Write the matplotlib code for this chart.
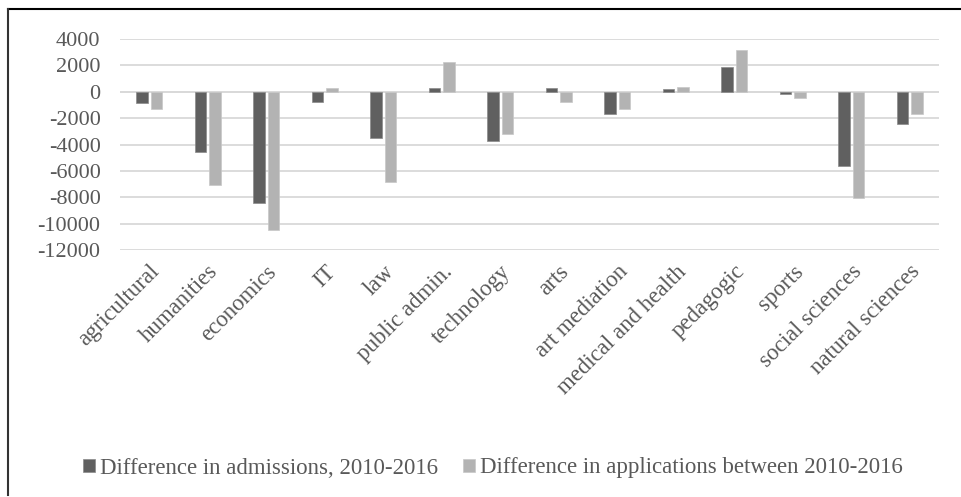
import numpy as np
import matplotlib.pyplot as plt
from matplotlib.lines import Line2D

kategorie = ['agricultural', 'humanities', 'economics', 'IT', 'law', 'public admin.',
             'technology', 'arts', 'art mediation', 'medical and health', 'pedagogic',
             'sports', 'social sciences', 'natural sciences']
przyjecia = [-870, -4600, -8450, -800, -3530, 250, -3710, 280, -1670, 175, 1870, -175, -5630, -2470]
zgloszenia = [-1330, -7060, -10480, 280, -6870, 2280, -3180, -780, -1340, 330, 3130, -480, -8080, -1670]

etykieta_1 = 'Difference in admissions, 2010-2016'
etykieta_2 = 'Difference in applications between 2010-2016'

plt.rcParams['font.family'] = ['Liberation Serif', 'DejaVu Serif']
plt.rcParams['axes.unicode_minus'] = False
kolor_tekstu = '#595959'

fig = plt.figure(figsize=(9.62, 4.97), dpi=100)
ax = fig.add_axes([120 / 962, 1 - 250 / 497, (939 - 120) / 962, 211 / 497])

x = np.arange(len(kategorie))
szer = 0.2
ax.bar(x - 0.125, przyjecia, szer, color='#606060', edgecolor='#8a8a8a', linewidth=0.5,
       label=etykieta_1, zorder=3)
ax.bar(x + 0.125, zgloszenia, szer, color='#b3b3b3', edgecolor='#c8c8c8', linewidth=0.5,
       label=etykieta_2, zorder=3)

ax.set_xlim(-0.5, len(kategorie) - 0.5)
ax.set_ylim(-12000, 4000)
ax.set_yticks(np.arange(-12000, 4001, 2000))
ax.yaxis.grid(True, color='#d9d9d9', linewidth=1.3, zorder=0)
ax.axhline(0, color='#d9d9d9', linewidth=1.3, zorder=1)
for s in ax.spines.values():
    s.set_visible(False)
ax.tick_params(axis='both', length=0, labelsize=16, colors=kolor_tekstu)
ax.tick_params(axis='y', pad=14)
ax.set_xticks(x)
ax.set_xticklabels(kategorie, rotation=45, ha='right', rotation_mode='anchor', fontsize=16.5)
ax.tick_params(axis='x', pad=8)

leg = fig.legend(loc='center', bbox_to_anchor=(493 / 962, 1 - 468 / 497), ncol=2, frameon=False,
                 fontsize=16.5, handlelength=0.52, handleheight=0.52, handletextpad=0.22,
                 columnspacing=1.1, labelcolor=kolor_tekstu)

# ramka wykresu (tylko lewa i gorna krawedz widoczna)
fig.add_artist(Line2D([8 / 962, 1], [1 - 9 / 497, 1 - 9 / 497], color='black', linewidth=1.5,
                      transform=fig.transFigure))
fig.add_artist(Line2D([8 / 962, 8 / 962], [1 - 9 / 497, 1 - 495 / 497], color='#333333',
                      linewidth=1.5, transform=fig.transFigure))

plt.savefig('out.png', dpi=100)
